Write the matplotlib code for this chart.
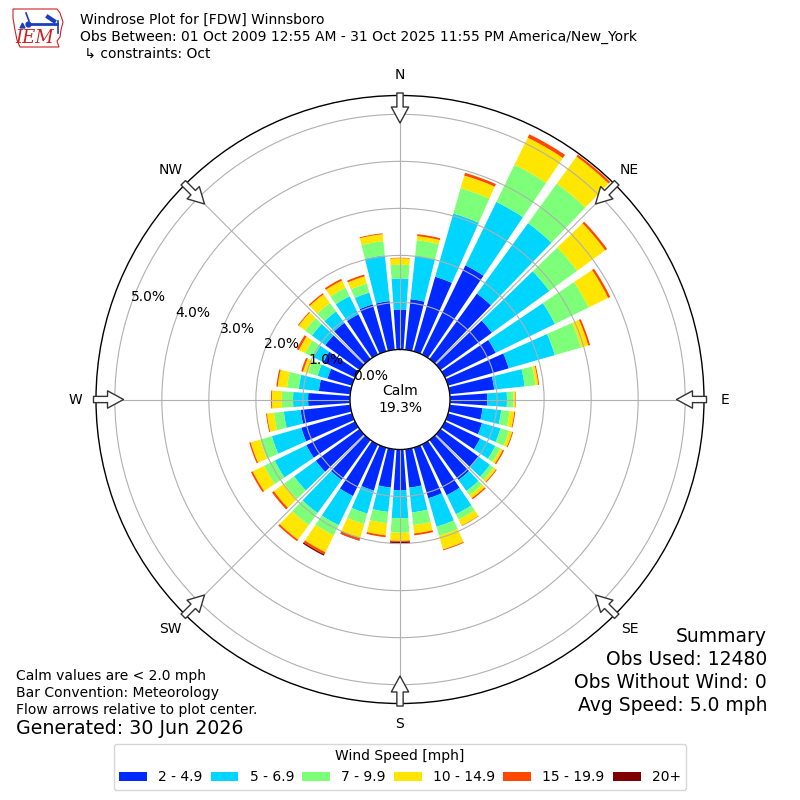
import numpy as np
import matplotlib
matplotlib.use("Agg")
import matplotlib.pyplot as plt
from matplotlib.patches import Polygon, ArrowStyle
from matplotlib.lines import Line2D

# ---------------- data (percent of observations) ----------------
directions = np.arange(0, 360, 10)
bin_labels = ["2 - 4.9", "5 - 6.9", "7 - 9.9", "10 - 14.9", "15 - 19.9", "20+"]
spd_2_5 = [0.85, 1.08, 1.65, 2.11, 1.72, 1.35, 1.20, 1.34, 0.95, 0.79,
           0.70, 0.75, 0.83, 1.00, 1.05, 1.20, 1.12, 0.82, 0.87, 0.82,
           0.95, 1.22, 1.05, 1.15, 1.15, 1.12, 1.06, 0.89, 0.67, 0.54,
           0.75, 0.90, 0.95, 0.95, 1.04, 1.04]
spd_5_7 = [0.66, 0.92, 1.40, 1.50, 1.85, 1.51, 1.40, 1.02, 0.65, 0.42,
           0.40, 0.41, 0.36, 0.30, 0.29, 0.45, 0.63, 0.53, 0.59, 0.52,
           0.51, 0.69, 0.87, 0.57, 0.75, 0.65, 0.36, 0.32, 0.43, 0.22,
           0.23, 0.35, 0.30, 0.43, 0.26, 0.98]
spd_7_10 = [0.29, 0.34, 0.56, 0.88, 1.04, 0.73, 0.80, 0.58, 0.23, 0.14,
            0.18, 0.19, 0.12, 0.10, 0.11, 0.13, 0.20, 0.27, 0.31, 0.24,
            0.23, 0.24, 0.32, 0.26, 0.25, 0.26, 0.21, 0.24, 0.25, 0.21,
            0.20, 0.18, 0.22, 0.20, 0.20, 0.30]
spd_10_15 = [0.14, 0.09, 0.28, 0.64, 0.71, 0.74, 0.46, 0.16, 0.06, 0.04,
             0.10, 0.07, 0.06, 0.06, 0.08, 0.14, 0.30, 0.18, 0.17, 0.26,
             0.31, 0.40, 0.38, 0.27, 0.27, 0.21, 0.15, 0.21, 0.20, 0.11,
             0.15, 0.17, 0.23, 0.17, 0.16, 0.15]
spd_15_20 = [0.01, 0.04, 0.06, 0.08, 0.05, 0.05, 0.05, 0.04, 0.02, 0.01,
             0.02, 0.02, 0.03, 0.02, 0.03, 0.01, 0.02, 0.04, 0.02, 0.04,
             0.05, 0.05, 0.04, 0.05, 0.04, 0.03, 0.02, 0.02, 0.03, 0.04,
             0.05, 0.02, 0.03, 0.04, 0.04, 0.02]
spd_20p = [0.00, 0.00, 0.00, 0.00, 0.00, 0.00, 0.00, 0.00, 0.00, 0.00,
           0.00, 0.00, 0.00, 0.00, 0.00, 0.00, 0.00, 0.00, 0.04, 0.00,
           0.01, 0.03, 0.00, 0.00, 0.00, 0.00, 0.00, 0.00, 0.00, 0.00,
           0.00, 0.00, 0.00, 0.00, 0.00, 0.00]
series = [spd_2_5, spd_5_7, spd_7_10, spd_10_15, spd_15_20, spd_20p]
calm_pct = 19.3
ring_values = [0, 1, 2, 3, 4, 5]
ring_labels = ["0.0%", "1.0%", "2.0%", "3.0%", "4.0%", "5.0%"]
compass_deg = [0, 45, 90, 135, 180, 225, 270, 315]
compass_lbl = ["N", "NE", "E", "SE", "S", "SW", "W", "NW"]

# ---------------- figure ----------------
W = H = 800
fig = plt.figure(figsize=(8, 8), dpi=100)
cx, cy, R = 400, 399.5, 304
ax = fig.add_axes([(cx - R) / W, (H - cy - R) / H, 2 * R / W, 2 * R / H],
                  projection="polar")
ax.set_theta_zero_location("N")
ax.set_theta_direction(-1)

rmax = 5.4
rorig = 1.064
ax.set_ylim(0, rmax)
ax.set_rorigin(-rorig)

colors = plt.cm.jet(np.arange(1, 7) / 6.0)
theta = np.deg2rad(directions)
width = np.deg2rad(10 * 0.8)
bottom = np.zeros(len(directions))
handles = []
for vals, col, lab in zip(series, colors, bin_labels):
    vals = np.asarray(vals)
    b = ax.bar(theta, vals, width=width, bottom=bottom, color=col,
               linewidth=0, label=lab, zorder=1)
    handles.append(b)
    bottom = bottom + vals

ax.set_thetagrids(compass_deg, labels=[""] * len(compass_deg))
ax.set_rgrids(ring_values, labels=ring_labels, angle=289.5, fontsize=10)
ax.grid(True, color="#b0b0b0", linewidth=0.8)
for sp in ax.spines.values():
    sp.set_color("black")
    sp.set_linewidth(1.0)

px_per = R / (rmax + rorig)
def rdata(px):
    return px / px_per - rorig

# compass labels
for d, l in zip(compass_deg, compass_lbl):
    ax.text(np.deg2rad(d), rdata(324.5), l, ha="center", va="center",
            fontsize=10, clip_on=False)

# flow arrows
astyle = ArrowStyle.Simple(head_length=1.15, head_width=1.25, tail_width=0.45)
for d in compass_deg:
    ax.annotate("", xy=(np.deg2rad(d), rdata(276.5)),
                xytext=(np.deg2rad(d), rdata(306.5)),
                arrowprops=dict(arrowstyle=astyle, mutation_scale=10,
                                fc="white", ec="#333333", lw=1.0,
                                shrinkA=0, shrinkB=0),
                annotation_clip=False, zorder=5)

ax.text(0.5, 0.5, "Calm\n%.1f%%" % calm_pct, transform=ax.transAxes,
        ha="center", va="center", fontsize=10, linespacing=1.25)

# ---------------- texts ----------------
def fx(x):
    return x / W
def fy(y):
    return 1 - y / H

fig.text(fx(80), fy(20), "Windrose Plot for [FDW] Winnsboro", fontsize=10, va="center")
fig.text(fx(80), fy(37), "Obs Between: 01 Oct 2009 12:55 AM - 31 Oct 2025 11:55 PM America/New_York",
         fontsize=10, va="center")
fig.text(fx(80), fy(54), " \u21b3 constraints: Oct", fontsize=10, va="center")

fig.text(fx(16), fy(676), "Calm values are < 2.0 mph", fontsize=10, va="center")
fig.text(fx(16), fy(693), "Bar Convention: Meteorology", fontsize=10, va="center")
fig.text(fx(16), fy(710), "Flow arrows relative to plot center.", fontsize=10, va="center")
fig.text(fx(16), fy(729), "Generated: 30 Jun 2026", fontsize=13.7, va="center")

summary = ["Summary", "Obs Used: 12480", "Obs Without Wind: 0", "Avg Speed: 5.0 mph"]
for i, s in enumerate(summary):
    fig.text(fx(767), fy(636 + i * 23.3), s, fontsize=13.5, ha="right", va="center")

# logo
iowa = [(13, 9), (57, 9), (60, 13), (63, 22), (61, 30), (60, 37), (57, 41),
        (59, 47), (20, 47), (17, 40), (15, 30), (13, 18)]
fig.add_artist(Polygon([(fx(x), fy(y)) for x, y in iowa], closed=True,
                       fill=False, ec="#d02020", lw=0.8,
                       transform=fig.transFigure))
blue = "#1a3dbf"
fig.add_artist(Line2D([fx(28), fx(57)], [fy(24), fy(24)], color=blue,
                      lw=2.0, transform=fig.transFigure))
fig.add_artist(Line2D([fx(28)], [fy(24)], color=blue, marker="o", ms=3.5,
                      transform=fig.transFigure))
fig.add_artist(Line2D([fx(26), fx(29)], [fy(13), fy(21)], color=blue,
                      lw=1.2, transform=fig.transFigure))
fig.add_artist(Line2D([fx(48), fx(54)], [fy(17), fy(21)], color=blue,
                      lw=3.0, transform=fig.transFigure))
fig.add_artist(Line2D([fx(58), fx(58)], [fy(21), fy(33)], color=blue,
                      lw=1.2, transform=fig.transFigure))
fig.add_artist(Line2D([fx(22)], [fy(25)], color=blue, marker="^", ms=3.5,
                      transform=fig.transFigure))
fig.text(fx(35), fy(38), "IEM", fontsize=13, color="#d02020", style="italic",
         family="DejaVu Serif", ha="center", va="center")

# legend
fig.legend(handles=handles, labels=bin_labels, loc="lower center",
           bbox_to_anchor=(0.5, 0.004), ncol=6, title="Wind Speed [mph]",
           fontsize=10, title_fontsize=10, columnspacing=0.6,
           handletextpad=0.8)

fig.savefig("out.png", dpi=100)
